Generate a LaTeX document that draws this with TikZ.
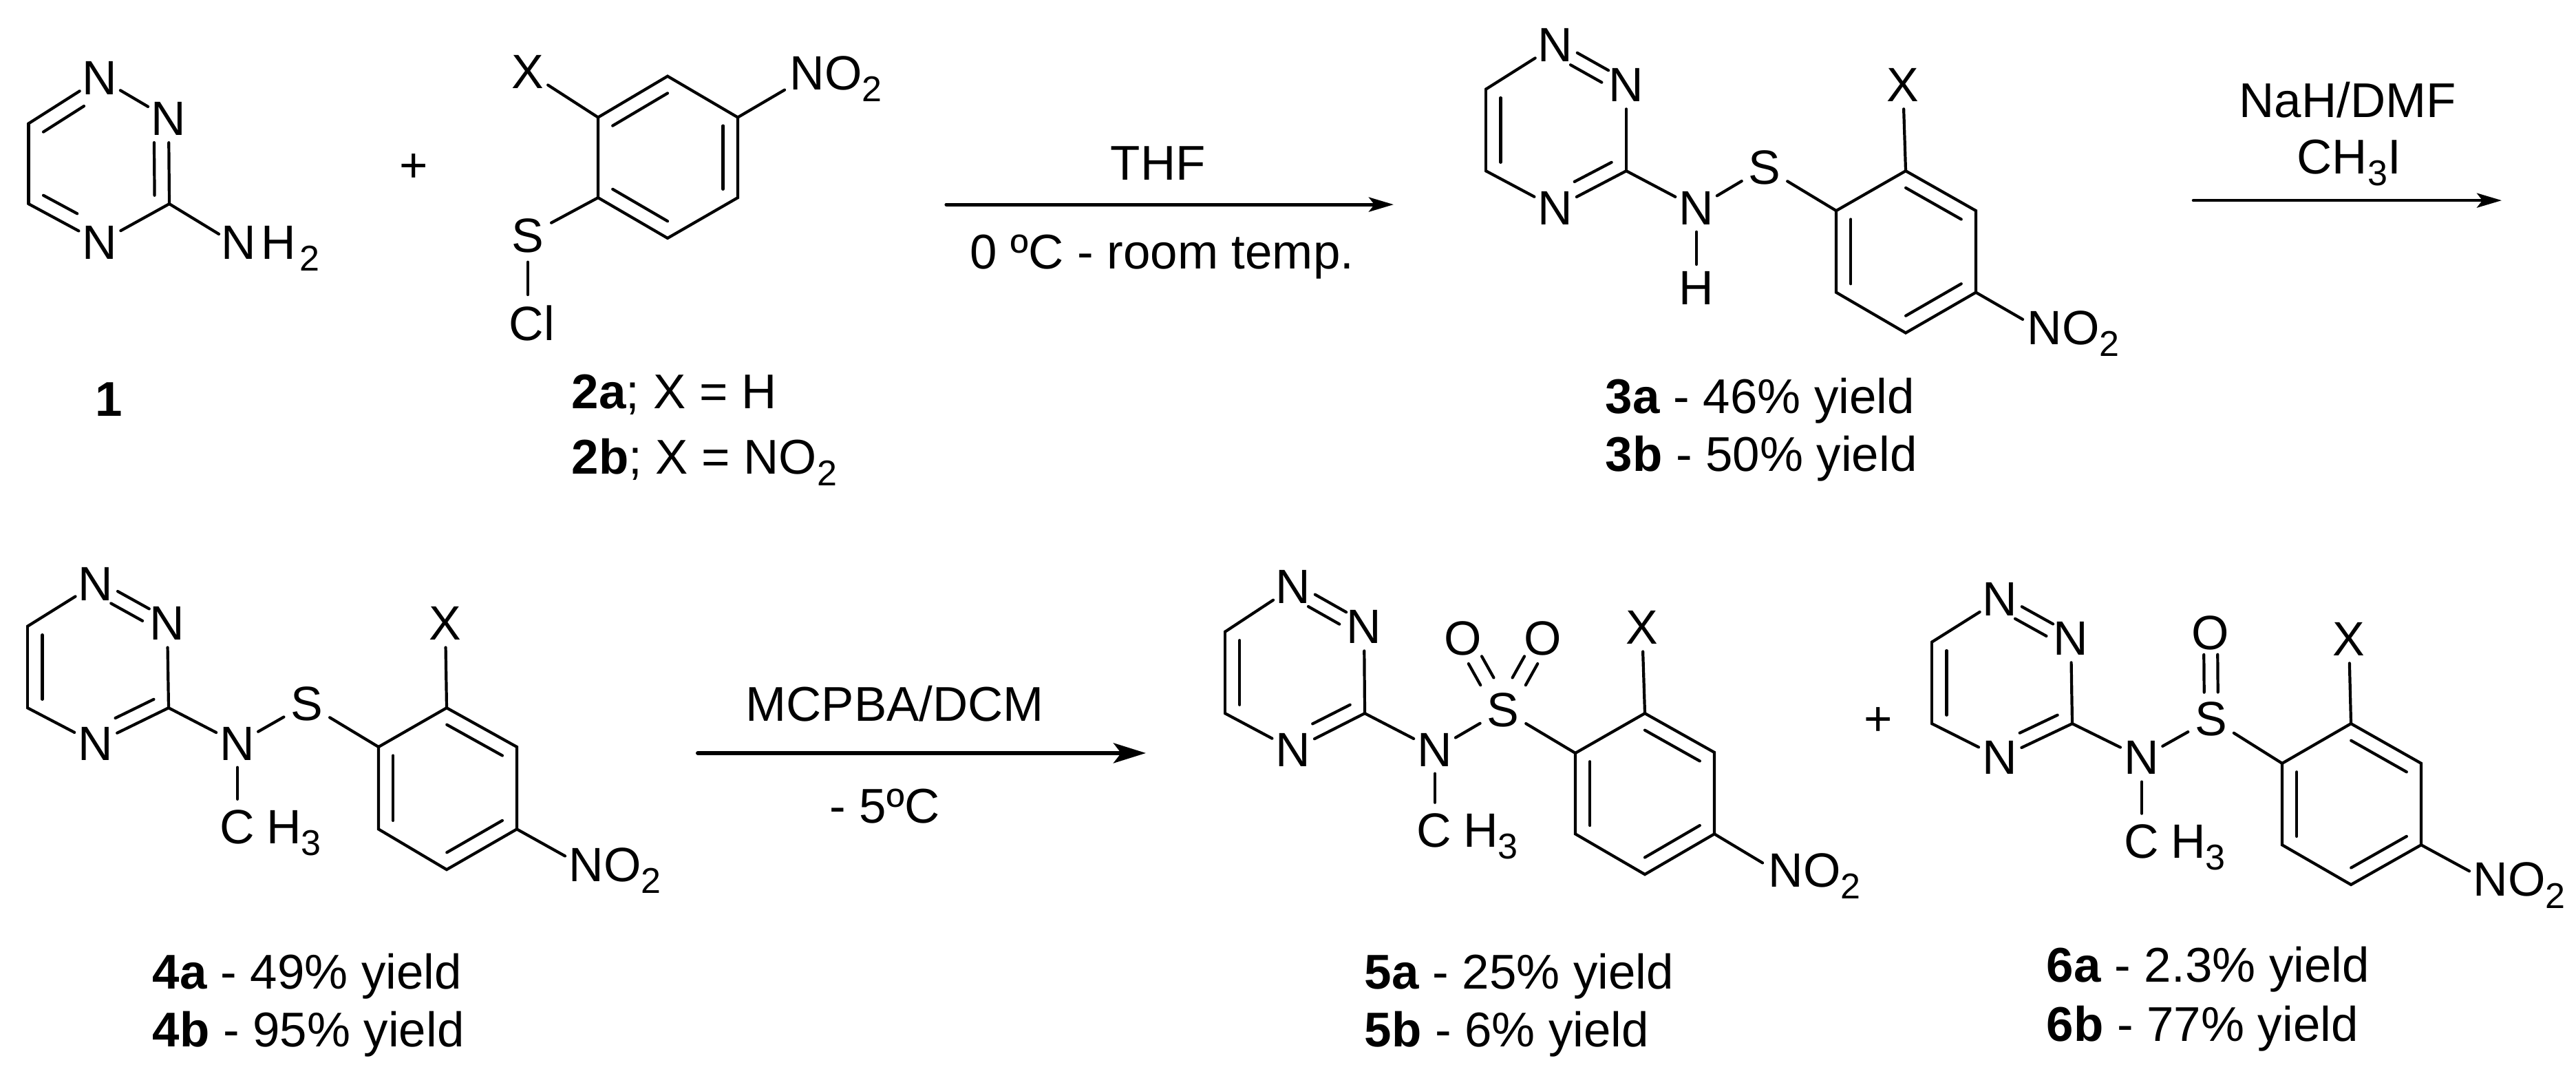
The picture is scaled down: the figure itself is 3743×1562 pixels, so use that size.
\documentclass[tikz,border=0pt]{standalone}
\usepackage{fontspec}
\setmainfont{Liberation Sans}
\usetikzlibrary{calc,arrows.meta}
\newcommand{\fA}{\fontsize{19.9pt}{23pt}\selectfont}
\newcommand{\fT}{\fontsize{20.15pt}{24pt}\selectfont}
\newcommand{\sbs}[1]{\raisebox{-.17cm}{\fontsize{14.8pt}{16pt}\selectfont #1}}
\tikzset{
  bond/.style={line width=.042cm,line cap=round,black},
  atom/.style={circle,inner sep=-.02cm,minimum size=.68cm,font=\fA,text=black},
  atomS/.style={atom,minimum size=.76cm},
  group/.style={anchor=base west,inner xsep=0pt,inner ysep=0pt,font=\fA,text=black},
  capt/.style={anchor=base west,inner sep=0pt,font=\fT,text=black},
  rxn/.style={line width=.052cm,line cap=round,-{Stealth[length=.36cm,width=.21cm,inset=.08cm]}},
  rxnlong/.style={line width=.06cm,line cap=round,-{Stealth[length=.47cm,width=.29cm,inset=.11cm]}},
  toprow/.style={y=-.009957cm},
  lowrow/.style={y=-.009949cm,yshift=-.039cm}
}
% inner line of a ring double bond
\newcommand{\inbond}[5]{\draw[bond,shorten <=#4,shorten >=#5] ($(#1)!.21!(#3)$) -- ($(#2)!.21!(#3)$);}
% two parallel lines between atoms
\newcommand{\twobond}[6]{%
  \draw[bond] ($(#1)!#3!(#2)!#5!90:(#2)$) -- ($(#1)!#4!(#2)!#5!90:(#2)$);
  \draw[bond] ($(#1)!#3!(#2)!#6!90:(#2)$) -- ($(#1)!#4!(#2)!#6!90:(#2)$);}
% 1,2,4-triazine ring with N1=N2, C3=N4, C5=C6
\newcommand{\triaz}[7]{%
  \node[atom] (#1n1) at (#2) {N};
  \node[atom] (#1n2) at (#3) {N};
  \coordinate (#1c6) at (#4);
  \coordinate (#1c5) at (#5);
  \coordinate (#1c3) at (#6);
  \node[atom] (#1n4) at (#7) {N};
  \coordinate (#1m) at ($(#1c6)!.5!(#1c3)$);
  \draw[bond] (#1n1) -- (#1c6);
  \draw[bond] (#1c6) -- (#1c5);
  \draw[bond] (#1c5) -- (#1n4);
  \draw[bond] (#1n4) -- (#1c3);
  \draw[bond] (#1c3) -- (#1n2);
  \twobond{#1n1}{#1n2}{.28}{.72}{.06cm}{-.14cm}
  \inbond{#1c3}{#1n4}{#1m}{0cm}{.31cm}
  \inbond{#1c6}{#1c5}{#1m}{0cm}{0cm}
}
% benzene ring, ipso at left top
\newcommand{\aryl}[7]{%
  \coordinate (#1r1) at (#2);
  \coordinate (#1r2) at (#3);
  \coordinate (#1r3) at (#4);
  \coordinate (#1r4) at (#5);
  \coordinate (#1r5) at (#6);
  \coordinate (#1r6) at (#7);
  \coordinate (#1q) at ($(#1r1)!.5!(#1r4)$);
  \draw[bond] (#1r1) -- (#1r2) -- (#1r3) -- (#1r4) -- (#1r5) -- (#1r6) -- cycle;
  \inbond{#1r2}{#1r3}{#1q}{0cm}{0cm}
  \inbond{#1r4}{#1r5}{#1q}{0cm}{0cm}
  \inbond{#1r6}{#1r1}{#1q}{0cm}{0cm}
}
\begin{document}
\begin{tikzpicture}[x=.01cm,y=-.01cm]
\fill[white] (0,0) rectangle (3743,1562);
\useasboundingbox (0,0) rectangle (3743,1562);

\begin{scope}[toprow]
% --- compound 1
\node[atom] (an1) at (145,114) {N};
\node[atom] (an2) at (245,173) {N};
\coordinate (ac6) at (41.5,180);
\coordinate (ac5) at (41.5,297);
\coordinate (ac3) at (246,297);
\node[atom] (an4) at (145,353) {N};
\coordinate (am) at (144,238);
\node[group] (anh) at (321,378) {N\hspace{.07cm}H\hspace{.06cm}\sbs{2}};
\draw[bond] (an1) -- (ac6);
\draw[bond] (ac6) -- (ac5);
\draw[bond] (ac5) -- (an4);
\draw[bond] (an4) -- (ac3);
\draw[bond] (ac3) -- (an2);
\draw[bond] (an1) -- (an2);
\draw[bond] (ac3) -- ([shift={(-3,12)}]anh.north west);
\inbond{ac6}{an1}{am}{0cm}{.27cm}
\inbond{ac3}{an2}{am}{0cm}{.21cm}
\inbond{ac5}{an4}{am}{0cm}{.37cm}
\node[capt,font=\fT\bfseries] (lab1) at (138,606) {1};
\node[capt] (plus1) at (580,265) {+};

% --- compound 2
\coordinate (br1) at (970,111);
\coordinate (br2) at (869,171);
\coordinate (br3) at (1072,171);
\coordinate (br4) at (869,288);
\coordinate (br5) at (1072,288);
\coordinate (br6) at (970,347);
\coordinate (bq) at (970,229);
\draw[bond] (br1) -- (br2) -- (br4) -- (br6) -- (br5) -- (br3) -- cycle;
\inbond{br2}{br1}{bq}{0cm}{0cm}
\inbond{br3}{br5}{bq}{0cm}{0cm}
\inbond{br4}{br6}{bq}{0cm}{0cm}
\node[atom] (bx) at (767,105) {X};
\node[atomS] (bs) at (767,343) {S};
\node[group,inner ysep=.15cm] (bcl) at (739,496) {Cl};
\node[group] (bno) at (1147,131) {NO\sbs{2}};
\draw[bond] (bx) -- (br2);
\draw[bond] (bs) -- (br4);
\draw[bond] (bs) -- (bs |- bcl.north);
\draw[bond] (br3) -- ([shift={(-7,0)}]bno.base west);
\node[capt] (lab2a) at (830,595) {\textbf{2a}; X = H};
\node[capt] (lab2b) at (830,691) {\textbf{2b}; X = NO\sbs{2}};

% --- arrow 1
\coordinate (a1s) at (1375,298);
\coordinate (a1e) at (2025,298);
\draw[rxn] (a1s) -- (a1e);
\node[capt] (thf) at (1613,262) {THF};
\node[capt] (temp) at (1409,392) {0 ºC - room temp.};

% --- compound 3
\triaz{c}{2260,66}{2363,124}{2159,130}{2159,249}{2363,249}{2260,303}
\aryl{c}{2668,307}{2769,249}{2871,307}{2871,426}{2769,485}{2668,426}
\node[atom] (cn) at (2465,303) {N};
\node[atom] (ch) at (2465,420) {H};
\node[atomS] (cs) at (2564,244) {S};
\node[atom] (cx) at (2765,124) {X};
\node[group] (cno) at (2945,502) {NO\sbs{2}};
\draw[bond] (cc3) -- (cn);
\draw[bond] (cn) -- (ch);
\draw[bond] (cn) -- (cs);
\draw[bond] (cs) -- (cr1);
\draw[bond] (cx) -- (cr2);
\draw[bond] (cr4) -- ([shift={(-6,13)}]cno.north west);
\node[capt] (lab3a) at (2332,602) {\textbf{3a} - 46\% yield};
\node[capt] (lab3b) at (2332,687) {\textbf{3b} - 50\% yield};

% --- arrow 2
\coordinate (a2s) at (3187,292);
\coordinate (a2e) at (3635,292);
\draw[rxn,line width=.046cm] (a2s) -- (a2e);
\node[capt] (nah) at (3253,171) {NaH/DMF};
\node[capt] (mei) at (3337,253) {CH\sbs{3}I};
\end{scope}

\begin{scope}[lowrow]
% --- compound 4
\triaz{d}{139,848}{243,906}{40,910}{40,1029}{245,1029}{139,1081}
\aryl{d}{550,1086}{649,1029}{751,1086}{751,1206}{649,1265}{550,1206}
\node[atom] (dn) at (345,1081) {N};
\node[atomS] (ds) at (446,1023) {S};
\node[atom] (dx) at (647,906) {X};
\node[group,inner ysep=.15cm] (dme) at (319,1227) {C\hspace{.17cm}H\sbs{3}};
\node[group] (dno) at (826,1282) {NO\sbs{2}};
\draw[bond] (dc3) -- (dn);
\draw[bond] (dn) -- (ds);
\draw[bond] (ds) -- (dr1);
\draw[bond] (dn) -- (dn |- dme.north);
\draw[bond] (dx) -- (dr2);
\draw[bond] (dr4) -- ([shift={(-5,13)}]dno.north west);
\node[capt] (lab4a) at (221,1439) {\textbf{4a} - 49\% yield};
\node[capt] (lab4b) at (221,1524) {\textbf{4b} - 95\% yield};

% --- arrow 3
\coordinate (a3s) at (1014,1095);
\coordinate (a3e) at (1665,1095);
\draw[rxnlong] (a3s) -- (a3e);
\node[capt] (mcpba) at (1083,1048) {MCPBA/DCM};
\node[capt] (cold) at (1205,1197) {- 5ºC};

% --- compound 5
\triaz{e}{1879,852.5}{1982,911}{1780,918}{1780,1037}{1983,1037}{1879,1090}
\aryl{e}{2289,1095}{2390,1037}{2491,1094}{2491,1213}{2390,1272}{2289,1213}
\node[atom] (en) at (2085,1090) {N};
\node[atomS] (es) at (2184,1032) {S};
\node[atom] (eo1) at (2126,928) {O};
\node[atom] (eo2) at (2242,928) {O};
\node[atom] (ex) at (2386,912) {X};
\node[group,inner ysep=.15cm] (eme) at (2058,1232) {C\hspace{.17cm}H\sbs{3}};
\node[group] (eno) at (2569,1290) {NO\sbs{2}};
\draw[bond] (ec3) -- (en);
\draw[bond] (en) -- (es);
\draw[bond] (es) -- (er1);
\draw[bond] (en) -- (en |- eme.north);
\draw[bond] (ex) -- (er2);
\draw[bond] (er4) -- ([shift={(-8,15)}]eno.north west);
\twobond{eo1}{es}{.30}{.60}{.11cm}{-.11cm}
\twobond{eo2}{es}{.30}{.60}{.11cm}{-.11cm}
\node[capt] (lab5a) at (1982,1439) {\textbf{5a} - 25\% yield};
\node[capt] (lab5b) at (1982,1524) {\textbf{5b} - 6\% yield};

% --- compound 6
\node[capt] (plus2) at (2708,1069) {+};
\triaz{f}{2906,870.5}{3009,928}{2807,933}{2807,1052}{3011,1052}{2906,1102}
\aryl{f}{3316,1110}{3416,1052}{3518,1110}{3518,1229}{3416,1287}{3316,1229}
\node[atom] (fn) at (3112,1102) {N};
\node[atomS] (fs) at (3213,1045) {S};
\node[atom] (fo) at (3212,920) {O};
\node[atom] (fx) at (3413,929) {X};
\node[group,inner ysep=.15cm] (fme) at (3086,1248) {C\hspace{.17cm}H\sbs{3}};
\node[group] (fno) at (3593,1304) {NO\sbs{2}};
\draw[bond] (fc3) -- (fn);
\draw[bond] (fn) -- (fs);
\draw[bond] (fs) -- (fr1);
\draw[bond] (fn) -- (fn |- fme.north);
\draw[bond] (fx) -- (fr2);
\draw[bond] (fr4) -- ([shift={(-5,13)}]fno.north west);
\twobond{fo}{fs}{.25}{.69}{.10cm}{-.10cm}
\node[capt] (lab6a) at (2973,1429) {\textbf{6a} - 2.3\% yield};
\node[capt] (lab6b) at (2973,1515) {\textbf{6b} - 77\% yield};
\end{scope}
\end{tikzpicture}
\end{document}
